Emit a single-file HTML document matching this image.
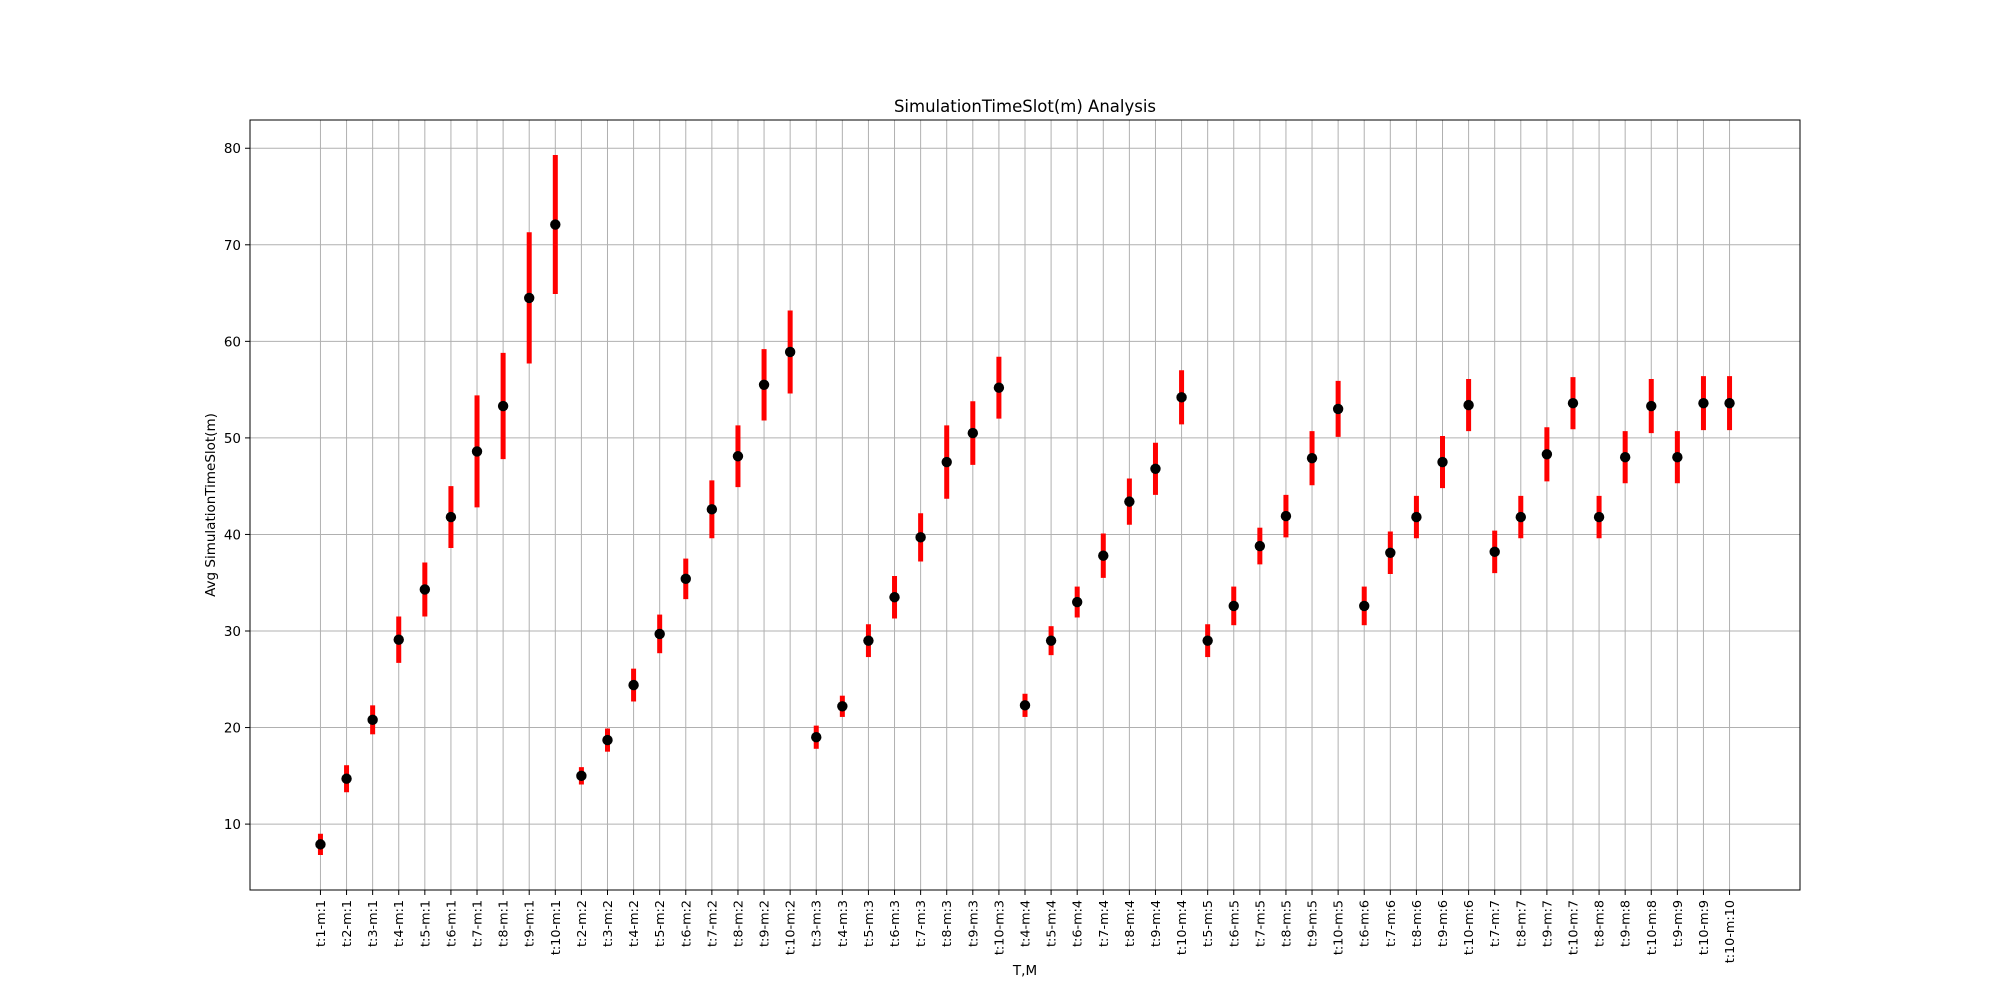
<!DOCTYPE html>
<html><head><meta charset="utf-8"><style>
html,body{margin:0;padding:0;background:#fff;}
svg{display:block;font-family:"DejaVu Sans","Liberation Sans",sans-serif;}
</style></head><body>
<svg id="chart" width="2000" height="1000" xmlns="http://www.w3.org/2000/svg"></svg>
<script>
const tValues = [1,2,3,4,5,6,7,8,9,10, 2,3,4,5,6,7,8,9,10, 3,4,5,6,7,8,9,10, 4,5,6,7,8,9,10, 5,6,7,8,9,10, 6,7,8,9,10, 7,8,9,10, 8,9,10, 9,10, 10];
const mValues = [1,1,1,1,1,1,1,1,1,1, 2,2,2,2,2,2,2,2,2, 3,3,3,3,3,3,3,3, 4,4,4,4,4,4,4, 5,5,5,5,5,5, 6,6,6,6,6, 7,7,7,7, 8,8,8, 9,9, 10];
const means = [7.9,14.7,20.8,29.1,34.3,41.8,48.6,53.3,64.5,72.1,
  15.0,18.7,24.4,29.7,35.4,42.6,48.1,55.5,58.9,
  19.0,22.2,29.0,33.5,39.7,47.5,50.5,55.2,
  22.3,29.0,33.0,37.8,43.4,46.8,54.2,
  29.0,32.6,38.8,41.9,47.9,53.0,
  32.6,38.1,41.8,47.5,53.4,
  38.2,41.8,48.3,53.6,
  41.8,48.0,53.3,
  48.0,53.6,
  53.6];
const errs = [1.1,1.4,1.5,2.4,2.8,3.2,5.8,5.5,6.8,7.2,
  0.9,1.2,1.7,2.0,2.1,3.0,3.2,3.7,4.3,
  1.2,1.1,1.7,2.2,2.5,3.8,3.3,3.2,
  1.2,1.5,1.6,2.3,2.4,2.7,2.8,
  1.7,2.0,1.9,2.2,2.8,2.9,
  2.0,2.2,2.2,2.7,2.7,
  2.2,2.2,2.8,2.7,
  2.2,2.7,2.8,
  2.7,2.8,
  2.8];
const yTicks = [10,20,30,40,50,60,70,80];

const NS = "http://www.w3.org/2000/svg";
const svg = document.getElementById('chart');
const L=250,R=1800,T=120,B=890;
const n = means.length;
const xmin=-0.05*(n-1), xmax=(n-1)*1.05;
let lo=Infinity,hi=-Infinity;
means.forEach((m,i)=>{lo=Math.min(lo,m-errs[i]);hi=Math.max(hi,m+errs[i]);});
const pad=(hi-lo)*0.05, ymin=lo-pad, ymax=hi+pad;
const X=v=>L+(v-xmin)/(xmax-xmin)*(R-L);
const Y=v=>B-(v-ymin)/(ymax-ymin)*(B-T);
function el(tag,attrs,parent){const e=document.createElementNS(NS,tag);for(const k in attrs)e.setAttribute(k,attrs[k]);(parent||svg).appendChild(e);return e;}

for(let i=0;i<n;i++){
  const g=el('line',{x1:X(i),x2:X(i),y1:T,y2:B,stroke:'#b0b0b0','stroke-width':1});
  
  
}
yTicks.forEach(v=>{
  const g=el('line',{x1:L,x2:R,y1:Y(v),y2:Y(v),stroke:'#b0b0b0','stroke-width':1});
  
  
  const t=el('line',{x1:L-5,x2:L,y1:Y(v),y2:Y(v),stroke:'#000','stroke-width':1});
  
  
  const lab=el('text',{x:L-9,y:Y(v)+5,'text-anchor':'end','font-size':13.5,fill:'#000'});
  lab.textContent=v;
  
  
});
for(let i=0;i<n;i++){
  const t=el('line',{x1:X(i),x2:X(i),y1:B,y2:B+5,stroke:'#000','stroke-width':1});
  
  
  const lab=el('text',{x:0,y:0,'text-anchor':'end','font-size':12.8,fill:'#000',transform:`translate(${X(i)+4.5},${B+10}) rotate(-90)`});
  lab.textContent=`t:${tValues[i]}-m:${mValues[i]}`;
  
  
}
means.forEach((m,i)=>{
  const e=el('line',{x1:X(i),x2:X(i),y1:Y(m-errs[i]),y2:Y(m+errs[i]),stroke:'#ff0000','stroke-width':5});
  
  
});
means.forEach((m,i)=>{
  const c=el('circle',{cx:X(i),cy:Y(m),r:5.2,fill:'#000'});
  
  
});
const f=el('rect',{x:L,y:T,width:R-L,height:B-T,fill:'none',stroke:'#000','stroke-width':1});


const title=el('text',{x:(L+R)/2,y:112,'text-anchor':'middle','font-size':16.5,fill:'#000'});
title.textContent='SimulationTimeSlot(m) Analysis';


const xt=el('text',{x:(L+R)/2,y:975,'text-anchor':'middle','font-size':13.5,fill:'#000'});
xt.textContent='T,M';


const yt=el('text',{x:0,y:0,'text-anchor':'middle','font-size':13.5,fill:'#000',transform:`translate(215,${(T+B)/2}) rotate(-90)`});
yt.textContent='Avg SimulationTimeSlot(m)';


</script>
</body></html>
